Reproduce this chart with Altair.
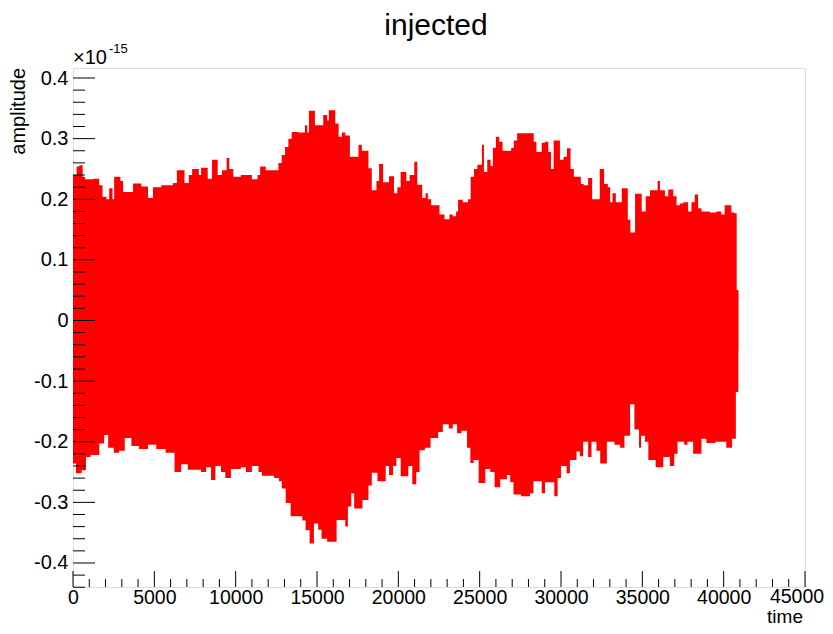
import altair as alt
import pandas as pd

# ---- data (amplitude in units of 1e-15) ----
upper_t = [0, 224, 388, 592, 734, 1244, 1612, 1816, 2060, 2224, 2428, 2530, 2917, 3080, 3590, 3692,
           4202, 4610, 4916, 5426, 6140, 6385, 6854, 7120, 7324, 7732, 7874, 8282, 8548, 8894, 9160,
           9445, 9608, 9853, 10322, 10730, 10996, 11342, 11506, 11852, 12628, 12832, 13036, 13240,
           13444, 13852, 14260, 14402, 14504, 14872, 15382, 15626, 15728, 16124, 16328, 16532, 16736,
           17022, 17552, 17756, 18164, 18368, 18654, 18817, 19062, 19429, 19735, 19939, 20143, 20490,
           20694, 20980, 21163, 21469, 21673, 21816, 22020, 22530, 22836, 23142, 23346, 23550, 23672,
           23958, 24284, 24447, 24651, 24855, 25141, 25263, 25467, 25671, 25814, 25998, 26202, 26406,
           26936, 27099, 27303, 28323, 28486, 28813, 29017, 29221, 29384, 29547, 29935, 30159, 30363,
           30587, 30791, 31220, 31391, 31669, 31914, 32383, 32648, 32880, 33023, 33166, 33370, 33737,
           34104, 34267, 34553, 34961, 35206, 35471, 35940, 36083, 36389, 36593, 36899, 37103, 37307,
           37511, 37817, 38021, 38225, 38429, 38633, 39143, 39551, 39857, 40061, 40469, 40673, 40800,
           40900]
upper_v = [0.240, 0.254, 0.256, 0.237, 0.233, 0.234, 0.223, 0.204, 0.200, 0.218, 0.200, 0.237, 0.230,
           0.212, 0.212, 0.226, 0.221, 0.202, 0.220, 0.223, 0.227, 0.248, 0.227, 0.240, 0.250, 0.240,
           0.252, 0.234, 0.265, 0.240, 0.248, 0.268, 0.250, 0.237, 0.240, 0.240, 0.233, 0.240, 0.254,
           0.248, 0.260, 0.273, 0.286, 0.300, 0.311, 0.310, 0.322, 0.310, 0.346, 0.322, 0.339, 0.330,
           0.347, 0.325, 0.303, 0.310, 0.305, 0.270, 0.290, 0.280, 0.251, 0.215, 0.230, 0.258, 0.228,
           0.238, 0.210, 0.220, 0.245, 0.230, 0.240, 0.262, 0.224, 0.202, 0.210, 0.200, 0.190, 0.175,
           0.167, 0.175, 0.172, 0.180, 0.199, 0.195, 0.200, 0.237, 0.250, 0.257, 0.290, 0.245, 0.265,
           0.255, 0.285, 0.303, 0.295, 0.280, 0.285, 0.297, 0.309, 0.295, 0.278, 0.293, 0.295, 0.278,
           0.250, 0.297, 0.265, 0.270, 0.284, 0.250, 0.237, 0.225, 0.223, 0.235, 0.200, 0.250, 0.225,
           0.220, 0.195, 0.210, 0.195, 0.218, 0.166, 0.145, 0.209, 0.180, 0.205, 0.215, 0.230, 0.215,
           0.205, 0.216, 0.205, 0.190, 0.193, 0.195, 0.180, 0.195, 0.208, 0.185, 0.180, 0.178, 0.180,
           0.175, 0.190, 0.178, 0.177, 0.050, 0.050]

lower_t = [0, 184, 530, 796, 1081, 1612, 1918, 2162, 2509, 2836, 3182, 3590, 4060, 4610, 5120, 5692,
           6242, 6650, 7058, 7874, 8180, 8486, 8752, 9098, 9364, 9710, 10322, 10628, 10996, 11404,
           11608, 12362, 12668, 12832, 13077, 13382, 14096, 14300, 14545, 14810, 15076, 15280, 15626,
           16206, 16736, 16900, 17104, 17287, 17797, 18164, 18368, 18715, 18980, 19225, 19429, 19674,
           19878, 20143, 20612, 20857, 21102, 21306, 21632, 21979, 22448, 22734, 23101, 23346, 23612,
           23877, 24223, 24427, 24631, 24937, 25345, 25651, 25916, 26263, 26671, 26875, 27079, 27548,
           28099, 28303, 28813, 29017, 29588, 29793, 29997, 30343, 30547, 30955, 31159, 31363, 31669,
           31873, 32179, 32411, 32819, 33288, 33635, 33900, 34104, 34247, 34512, 34798, 34920, 35165,
           35369, 35818, 36287, 36695, 36960, 37164, 37572, 37776, 38123, 38633, 38939, 39490, 39816,
           40163, 40510, 40750, 40900]
lower_v = [-0.236, -0.252, -0.247, -0.225, -0.222, -0.203, -0.189, -0.210, -0.218, -0.215, -0.194,
           -0.207, -0.212, -0.205, -0.212, -0.218, -0.250, -0.237, -0.246, -0.250, -0.242, -0.263,
           -0.240, -0.250, -0.260, -0.245, -0.242, -0.250, -0.240, -0.250, -0.256, -0.260, -0.265,
           -0.277, -0.301, -0.323, -0.330, -0.346, -0.368, -0.335, -0.345, -0.360, -0.365, -0.329,
           -0.340, -0.307, -0.285, -0.310, -0.296, -0.272, -0.251, -0.265, -0.265, -0.240, -0.255,
           -0.240, -0.227, -0.257, -0.240, -0.270, -0.250, -0.214, -0.210, -0.194, -0.184, -0.171,
           -0.178, -0.171, -0.186, -0.182, -0.210, -0.235, -0.230, -0.268, -0.245, -0.250, -0.275,
           -0.262, -0.255, -0.267, -0.287, -0.290, -0.285, -0.265, -0.285, -0.267, -0.290, -0.260,
           -0.240, -0.252, -0.230, -0.216, -0.224, -0.200, -0.225, -0.200, -0.215, -0.236, -0.200,
           -0.205, -0.210, -0.190, -0.190, -0.138, -0.180, -0.210, -0.190, -0.200, -0.230, -0.242,
           -0.225, -0.240, -0.220, -0.200, -0.205, -0.200, -0.220, -0.195, -0.202, -0.200, -0.200,
           -0.210, -0.195, -0.118, -0.118]

x_major = [0, 5000, 10000, 15000, 20000, 25000, 30000, 35000, 40000, 45000]
x_minor = [v for v in range(1000, 45000, 1000) if v % 5000 != 0]
y_major = [-0.4, -0.3, -0.2, -0.1, 0.0, 0.1, 0.2, 0.3, 0.4]
y_minor = [round(-0.44 + 0.02 * i, 2) for i in range(43)
           if round(-0.44 + 0.02 * i, 2) not in [round(v, 2) for v in y_major]]

title_text = "injected"
x_title = "time"
y_title = "amplitude"

W, H = 732, 519
XDOM = [0, 45000]
YDOM = [-0.4396, 0.4165]
FONT = "Liberation Sans"
RED = "#ff0000"
LAST_X = 45000

xs = alt.Scale(domain=XDOM, nice=False, zero=False)
ys = alt.Scale(domain=YDOM, nice=False, zero=False)

x_axis = alt.Axis(values=x_major, ticks=False, domain=False, grid=False,
                  labelExpr=f"datum.value == {LAST_X} ? '' : format(datum.value, 'd')",
                  labelFont=FONT, labelFontSize=19.5, labelColor="black", labelPadding=1,
                  labelFlush=False, labelOverlap=False, title=None)
y_axis = alt.Axis(values=y_major, ticks=False, domain=False, grid=False,
                  labelExpr="datum.value == 0 ? '0' : toString(round(datum.value * 10) / 10)",
                  labelFont=FONT, labelFontSize=20, labelColor="black", labelPadding=5,
                  labelFlush=False, labelOverlap=False, title=None)

up_df = pd.DataFrame({"t": upper_t, "v": upper_v})
lo_df = pd.DataFrame({"t": lower_t, "v": lower_v})

upper = alt.Chart(up_df).mark_area(interpolate="step-after", color=RED, strokeWidth=0).encode(
    x=alt.X("t:Q", scale=xs, axis=x_axis),
    y=alt.Y("v:Q", scale=ys, axis=y_axis),
    y2=alt.datum(-0.05),
)
lower = alt.Chart(lo_df).mark_area(interpolate="step-after", color=RED, strokeWidth=0).encode(
    x=alt.X("t:Q", scale=xs),
    y=alt.Y("v:Q", scale=ys),
    y2=alt.datum(0.05),
)

xmaj = alt.Chart(pd.DataFrame({"t": x_major})).mark_rule(color="black", strokeWidth=1).encode(
    x=alt.X("t:Q", scale=xs), y=alt.value(H), y2=alt.value(H - 16))
xmin = alt.Chart(pd.DataFrame({"t": x_minor})).mark_rule(color="black", strokeWidth=1).encode(
    x=alt.X("t:Q", scale=xs), y=alt.value(H), y2=alt.value(H - 8))
ymaj = alt.Chart(pd.DataFrame({"v": y_major})).mark_rule(color="black", strokeWidth=1).encode(
    y=alt.Y("v:Q", scale=ys), x=alt.value(0), x2=alt.value(22))
ymin = alt.Chart(pd.DataFrame({"v": y_minor})).mark_rule(color="black", strokeWidth=1).encode(
    y=alt.Y("v:Q", scale=ys), x=alt.value(0), x2=alt.value(12))

# last x tick label, nudged left so it stays inside the page
last_lab = alt.Chart(pd.DataFrame({"t": [LAST_X], "s": [str(LAST_X)]})).mark_text(
    font=FONT, fontSize=19.5, color="black", align="center", baseline="top", dx=-8
).encode(x=alt.X("t:Q", scale=xs), y=alt.value(H + 1), text="s:N")


def label(text, size, x, y, align="left", angle=0):
    return alt.Chart(pd.DataFrame({"s": [text]})).mark_text(
        font=FONT, fontSize=size, color="black", align=align, baseline="alphabetic", angle=angle
    ).encode(text="s:N", x=alt.value(x), y=alt.value(y))


t_title = label(title_text, 30, 363, -33, align="center")
t_y = label(y_title, 20, -48, 0, align="right", angle=270)
t_x = label(x_title, 19, 730, 555, align="right")
t_exp1 = label("×10", 20, 0, -4)
t_exp2 = label("-15", 13, 36, -15)

chart = alt.layer(upper, lower, xmaj, xmin, ymaj, ymin, last_lab,
                  t_title, t_y, t_x, t_exp1, t_exp2).properties(
    width=W, height=H,
    autosize=alt.AutoSizeParams(type="none"),
    padding={"left": 65, "top": 60, "right": 20, "bottom": 39},
).configure_view(stroke="black", strokeWidth=1.2).configure(background="white")

chart.save("out.html", embed_options={"renderer": "svg", "actions": False})
